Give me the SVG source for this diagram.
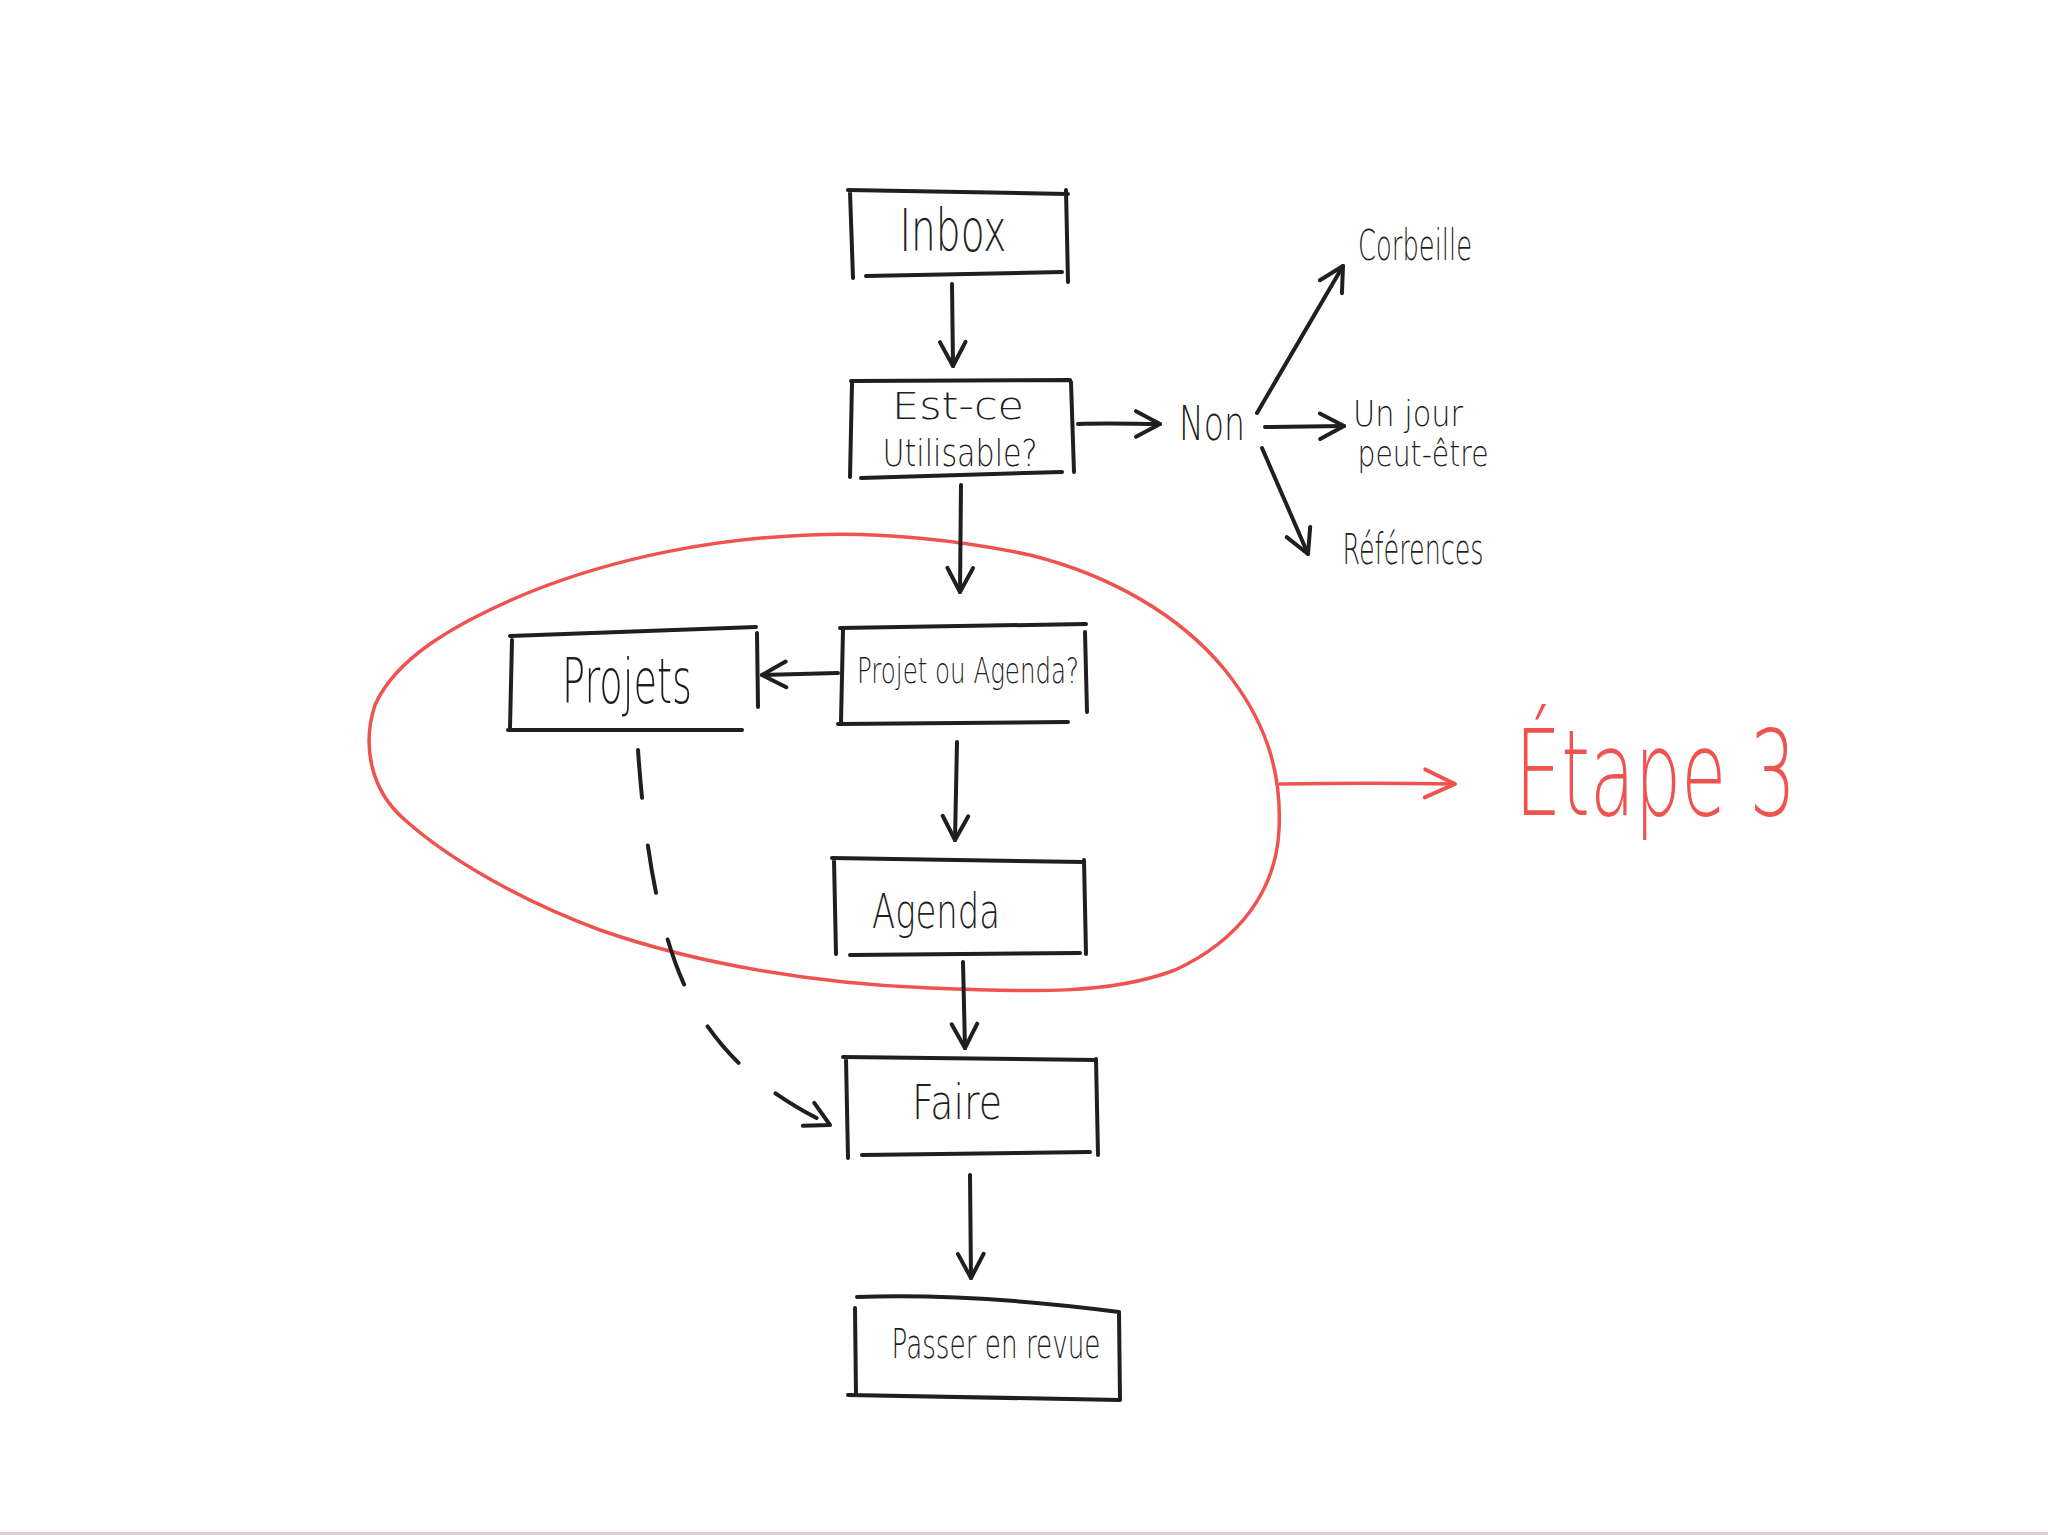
<svg xmlns="http://www.w3.org/2000/svg" width="2048" height="1535" viewBox="0 0 2048 1535">
<style>
.s{fill:none;stroke:#1f1f22;stroke-width:4;stroke-linecap:round;stroke-linejoin:round}
.r{fill:none;stroke:#ef5350;stroke-width:3.5;stroke-linecap:round;stroke-linejoin:round}
.t{font-family:"DejaVu Sans","Liberation Sans",sans-serif;fill:#1f1f22;font-weight:200}
.rt{font-family:"DejaVu Sans","Liberation Sans",sans-serif;fill:#ef5350;font-weight:200}
</style>
<defs>
<marker id="ah" viewBox="0 0 20 20" refX="18" refY="10" markerWidth="32" markerHeight="32" markerUnits="userSpaceOnUse" orient="auto">
<path d="M3,2 L18,10 L3,18" fill="none" stroke="#1f1f22" stroke-width="2.5" stroke-linecap="round" stroke-linejoin="round"/>
</marker>
<marker id="ahr" viewBox="0 0 20 20" refX="18" refY="10" markerWidth="40" markerHeight="40" markerUnits="userSpaceOnUse" orient="auto">
<path d="M3,3 L18,10 L3,17" fill="none" stroke="#ef5350" stroke-width="2" stroke-linecap="round" stroke-linejoin="round"/>
</marker>
</defs>
<rect width="2048" height="1535" fill="#ffffff"/>
<rect x="0" y="1532" width="2048" height="3" fill="#ddd0d0"/>

<g id="etape3-zone">
<path class="r" d="M810,535 C880,532 960,540 1030,555 C1110,575 1180,615 1225,670 C1265,720 1282,770 1279,830 C1276,890 1240,940 1175,970 C1110,995 1030,992 930,988 C820,984 700,965 600,930 C520,900 450,860 405,820 C370,790 362,745 375,705 C395,660 450,625 530,592 C620,556 720,538 810,535 Z"/>
</g>

<g id="connectors">
<path class="s" d="M952,284 L953,366" marker-end="url(#ah)"/>
<path class="s" d="M1078,424 C1110,423 1135,424 1160,424" marker-end="url(#ah)"/>
<path class="s" d="M1257,413 L1343,266" marker-end="url(#ah)"/>
<path class="s" d="M1265,427 L1344,426" marker-end="url(#ah)"/>
<path class="s" d="M1262,448 L1308,554" marker-end="url(#ah)"/>
<path class="s" d="M961,485 L960,592" marker-end="url(#ah)"/>
<path class="s" d="M838,673 L762,675" marker-end="url(#ah)"/>
<path class="s" d="M957,742 L955,840" marker-end="url(#ah)"/>
<path class="s" d="M963,962 L965,1048" marker-end="url(#ah)"/>
<path class="s" d="M970,1175 L971,1278" marker-end="url(#ah)"/>
<path class="s" d="M638,750 C645,850 660,950 700,1015 C735,1070 780,1100 830,1125" stroke-dasharray="48,48" marker-end="url(#ah)"/>
<path class="r" d="M1280,784 C1340,783 1400,783 1455,784" marker-end="url(#ahr)"/>
</g>

<g id="inbox">
<path class="s" d="M848,190 L1068,194 M850,192 L853,278 M1066,190 L1068,282 M866,276 L1062,272"/>
<text class="t" x="953" y="251" font-size="58" text-anchor="middle" textLength="107" lengthAdjust="spacingAndGlyphs">Inbox</text>
</g>

<g id="utilisable">
<path class="s" d="M851,381 L1070,380 M852,383 L850,477 M1071,382 L1074,472 M861,478 L1062,472"/>
<text class="t" x="958" y="419" font-size="38" text-anchor="middle" textLength="132" lengthAdjust="spacingAndGlyphs">Est-ce</text>
<text class="t" x="960" y="466" font-size="38" text-anchor="middle" textLength="155" lengthAdjust="spacingAndGlyphs">Utilisable?</text>
</g>

<g id="non">
<text class="t" x="1212" y="440" font-size="48" text-anchor="middle" textLength="66" lengthAdjust="spacingAndGlyphs">Non</text>
</g>

<g id="corbeille">
<text class="t" x="1415" y="260" font-size="42" text-anchor="middle" textLength="114" lengthAdjust="spacingAndGlyphs">Corbeille</text>
</g>

<g id="unjour">
<text class="t" x="1408" y="426" font-size="36" text-anchor="middle" textLength="110" lengthAdjust="spacingAndGlyphs">Un jour</text>
<text class="t" x="1423" y="466" font-size="36" text-anchor="middle" textLength="131" lengthAdjust="spacingAndGlyphs">peut-être</text>
</g>

<g id="references">
<text class="t" x="1413" y="564" font-size="42" text-anchor="middle" textLength="141" lengthAdjust="spacingAndGlyphs">Références</text>
</g>

<g id="projet-agenda">
<path class="s" d="M840,628 L1086,624 M843,630 L841,722 M1085,632 L1087,712 M838,724 L1068,722"/>
<text class="t" x="968" y="683" font-size="36" text-anchor="middle" textLength="222" lengthAdjust="spacingAndGlyphs">Projet ou Agenda?</text>
</g>

<g id="projets">
<path class="s" d="M510,636 L756,627 M512,640 L510,728 M757,633 L758,707 M508,730 L742,730"/>
<text class="t" x="627" y="703" font-size="62" text-anchor="middle" textLength="130" lengthAdjust="spacingAndGlyphs">Projets</text>
</g>

<g id="agenda">
<path class="s" d="M832,858 L1084,862 M834,860 L836,954 M1084,860 L1086,954 M850,955 L1080,953"/>
<text class="t" x="936" y="928" font-size="48" text-anchor="middle" textLength="128" lengthAdjust="spacingAndGlyphs">Agenda</text>
</g>

<g id="faire">
<path class="s" d="M843,1057 L1096,1060 M846,1059 L848,1158 M1096,1059 L1098,1155 M862,1155 L1090,1152"/>
<text class="t" x="957" y="1119" font-size="48" text-anchor="middle" textLength="90" lengthAdjust="spacingAndGlyphs">Faire</text>
</g>

<g id="passer">
<path class="s" d="M857,1297 C950,1294 1050,1303 1119,1312 M855,1308 L856,1395 M1119,1312 L1120,1400 M848,1395 L1120,1400"/>
<text class="t" x="996" y="1358" font-size="40" text-anchor="middle" textLength="209" lengthAdjust="spacingAndGlyphs">Passer en revue</text>
</g>

<g id="etape3">
<text class="rt" x="1515" y="815" font-size="120" textLength="281" lengthAdjust="spacingAndGlyphs">Étape 3</text>
</g>
</svg>
